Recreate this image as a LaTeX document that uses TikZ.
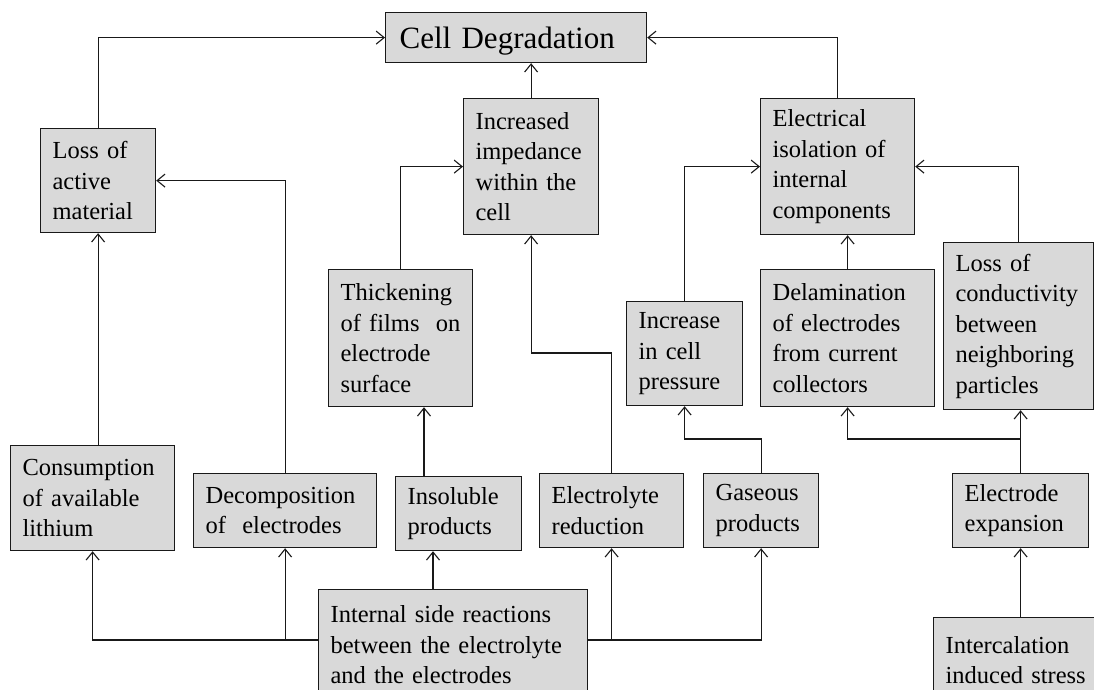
\documentclass[tikz,border=0pt]{standalone}
\usepackage{fontspec}
\setmainfont{Liberation Serif}
\usetikzlibrary{arrows.meta,calc}
\definecolor{boxfill}{RGB}{217,217,217}
\definecolor{ink}{RGB}{25,25,25}
\tikzset{
  box/.style={draw=ink, line width=1.2pt, fill=boxfill, anchor=north west,
    inner xsep=12pt, inner ysep=0pt, align=left,
    font=\fontsize{24.5}{30.5}\selectfont},
  arr/.style={draw=ink, line width=1.1pt, -{Straight Barb[length=8pt,width=13pt,line width=1.1pt]}},
  ln/.style={draw=ink, line width=1.1pt}
}
\begin{document}
\begin{tikzpicture}[x=1pt,y=-1pt]
\useasboundingbox (0,0) rectangle (1094,689);
\clip (0,0) rectangle (1094,689);
% boxes
\node[box, minimum width=261pt, minimum height=50pt, text width=233pt, inner xsep=14pt,
  text depth=0pt, font=\fontsize{31}{36}\selectfont] (cd) at (385,12) {Cell Degradation};
\node[box, minimum width=115pt, minimum height=104pt, text width=91pt] (lam) at (40,128)
  {Loss of\\active\\material};
\node[box, minimum width=135pt, minimum height=136pt, text width=111pt] (imp) at (463,98)
  {Increased\\impedance\\within the\\cell};
\node[box, minimum width=154pt, minimum height=136pt, text width=130pt] (iso) at (760,98)
  {Electrical\\isolation of\\internal\\components};
\node[box, minimum width=144pt, minimum height=137pt, text width=120pt] (thick) at (328,269)
  {Thickening\\of films\ \ on\\electrode\\surface};
\node[box, minimum width=116pt, minimum height=104pt, text width=92pt] (press) at (626,301)
  {Increase\\in cell\\pressure};
\node[box, minimum width=174pt, minimum height=137pt, text width=150pt] (delam) at (760,269)
  {Delamination\\of electrodes\\from current\\collectors};
\node[box, minimum width=150pt, minimum height=167pt, text width=126pt] (cond) at (943,242)
  {Loss of\\conductivity\\between\\neighboring\\particles};
\node[box, minimum width=164pt, minimum height=105pt, text width=140pt] (cons) at (10,445)
  {Consumption\\of available\\lithium};
\node[box, minimum width=183pt, minimum height=74pt, text width=159pt] (decomp) at (193,473)
  {Decomposition\\of\ \ electrodes};
\node[box, minimum width=126pt, minimum height=74pt, text width=102pt] (insol) at (395,476)
  {Insoluble\\products};
\node[box, minimum width=144pt, minimum height=74pt, text width=120pt] (elred) at (539,473)
  {Electrolyte\\reduction};
\node[box, minimum width=115pt, minimum height=74pt, text width=91pt] (gas) at (703,473)
  {Gaseous\\products};
\node[box, minimum width=136pt, minimum height=74pt, text width=112pt] (exp) at (952,473)
  {Electrode\\expansion};
\node[box, minimum width=269pt, minimum height=111pt, text width=245pt] (isr) at (318,589)
  {Internal side reactions\\between the electrolyte\\and the electrodes};
\node[box, minimum width=177pt, minimum height=85pt, text width=153pt] (inter) at (933,617)
  {Intercalation\\induced stress};
% connectors
\draw[arr] (lam.north) |- (cd.west);
\draw[arr] (iso.north) |- (cd.east);
\draw[arr] (imp.north) -- (imp.north |- cd.south);
\draw[arr] (decomp.north) |- (lam.east);
\draw[arr] (cons.north -| lam.south) -- (lam.south);
\draw[arr] (thick.north) |- (imp.west);
\draw[arr] ([xshift=29pt]insol.north west) -- ([xshift=29pt]insol.north west |- thick.south);
\draw[arr] ([xshift=115pt]isr.north west) -- ([xshift=115pt]isr.north west |- insol.south);
\draw[arr] (elred.north) |- (imp.south |- 0,353) -- (imp.south);
\draw[arr] (press.north) |- (iso.west);
\draw[arr] (gas.north) |- (press.south |- 0,439) -- (press.south);
\draw[arr] (cond.north) |- (iso.east);
\draw[arr] (delam.north) -- (delam.north |- iso.south);
\draw[arr] (exp.north) |- (delam.south |- 0,439) -- (delam.south);
\draw[arr] (exp.north) -- (exp.north |- cond.south);
\draw[arr] (exp.south |- inter.north) -- (exp.south);
\coordinate (isrL) at ([yshift=-51pt]isr.north west);
\coordinate (isrR) at ([yshift=-51pt]isr.north east);
\draw[arr] (isrL) -| (cons.south);
\draw[arr] (isrL -| decomp.south) -- (decomp.south);
\draw[arr] (isrR) -| (gas.south);
\draw[arr] (isrR -| elred.south) -- (elred.south);
\end{tikzpicture}
\end{document}
